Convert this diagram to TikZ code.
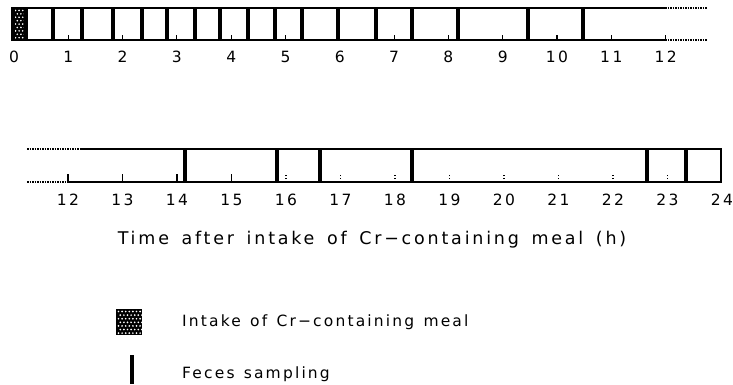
\documentclass[tikz,border=0pt]{standalone}
\usepackage{fontspec}
\newfontfamily\plotfont[LetterSpace=16]{DejaVu Sans}
\newfontfamily\textplotfont[LetterSpace=16,WordSpace=1.5]{DejaVu Sans}
\newfontfamily\legplotfont[LetterSpace=14,WordSpace=1.3]{DejaVu Sans}
\tikzset{
  boxline/.style={line width=1.5pt, line cap=butt},
  dotline/.style={line width=1.5pt, dash pattern=on 1.5pt off 1pt},
  sampbar/.style={line width=3.4pt},
  tickmark/.style={line width=1.1pt},
  dtick/.style={line width=1.1pt, dash pattern=on 1.5pt off 1.5pt},
  numlab/.style={font=\plotfont\fontsize{15.5}{15.5}\selectfont, inner sep=0pt},
  caplab/.style={font=\textplotfont\fontsize{17.5}{17.5}\selectfont, inner sep=0pt},
  leglab/.style={font=\legplotfont\fontsize{15.5}{15.5}\selectfont, inner sep=0pt, anchor=west},
  wdot/.style={fill=white}
}
\begin{document}
\begin{tikzpicture}[x=1pt,y=-1pt]
\useasboundingbox (0,0) rectangle (733,385);
% ---------- top row ----------
\coordinate (tl) at (13,8);
\coordinate (bl) at (13,40);
\coordinate (tr) at (665,8);
\coordinate (br) at (665,40);
\coordinate (tre) at (707,8);
\coordinate (bre) at (707,40);
\fill[black] (13,8) rectangle (26,40);
\foreach \i in {0,...,8}
  \foreach \j in {0,1,2} {
    \fill[wdot] ({15.5+3.6*\j+1.8*mod(\i,2)},{10.5+3.4*\i}) circle (0.9);
  }
\draw[boxline] (tl) -- (tr);
\draw[boxline] (bl) -- (br);
\draw[dotline] (tr) -- (tre);
\draw[dotline] (br) -- (bre);
\draw[sampbar] (13,7.3) -- (13,40.7);
\foreach \x in {26,53,82,113,142,167,195,220,248,275,302,338,376,412,458,528,583}
  \draw[sampbar] (\x,8) -- (\x,40);
\foreach \t in {1,2,3,4,5,7,8,9,10,11,12}
  \draw[tickmark] ({14+54.3*\t},40) -- ({14+54.3*\t},35);
\foreach \t in {0,...,12}
  \node[numlab] (a\t) at ({14+54.3*\t},57) {\t};
% ---------- bottom row ----------
\coordinate (btl) at (80,149);
\coordinate (bbl) at (68,182);
\coordinate (btr) at (721,149);
\coordinate (bbr) at (721,182);
\coordinate (btd) at (27,149);
\coordinate (bbd) at (27,182);
\draw[dotline] (btd) -- (btl);
\draw[dotline] (bbd) -- (bbl);
\draw[boxline] (btl) -- (btr) -- (bbr) -- (bbl);
\foreach \x in {185,277,320,412,647,686}
  \draw[sampbar] (\x,149) -- (\x,182);
\foreach \t in {12,13,14,15}
  \draw[tickmark] ({68+54.5*(\t-12)},182) -- ({68+54.5*(\t-12)},174);
\foreach \t in {16,...,23}
  \draw[dtick] ({68+54.5*(\t-12)},182) -- ({68+54.5*(\t-12)},174);
\foreach \t in {12,...,24}
  \node[numlab] (b\t) at ({68+54.5*(\t-12)},200) {\t};
% ---------- caption ----------
\node[caplab] (cap) at (372,240) {Time after intake of Cr−containing meal (h)};
% ---------- legend ----------
\fill[black] (116,309) rectangle (142,335);
\foreach \i in {0,...,6}
  \foreach \j in {0,...,6} {
    \fill[wdot] ({118.5+3.6*\j+1.8*mod(\i,2)},{311.5+3.6*\i}) circle (0.95);
  }
\node (legsq) at (129,322) {};
\draw[sampbar, line width=4pt] (132,355) -- (132,384);
\node (legbar) at (132,370) {};
\node[leglab] (l1) at (182,322) {Intake of Cr−containing meal};
\node[leglab] (l2) at (182,374) {Feces sampling};
\end{tikzpicture}
\end{document}
